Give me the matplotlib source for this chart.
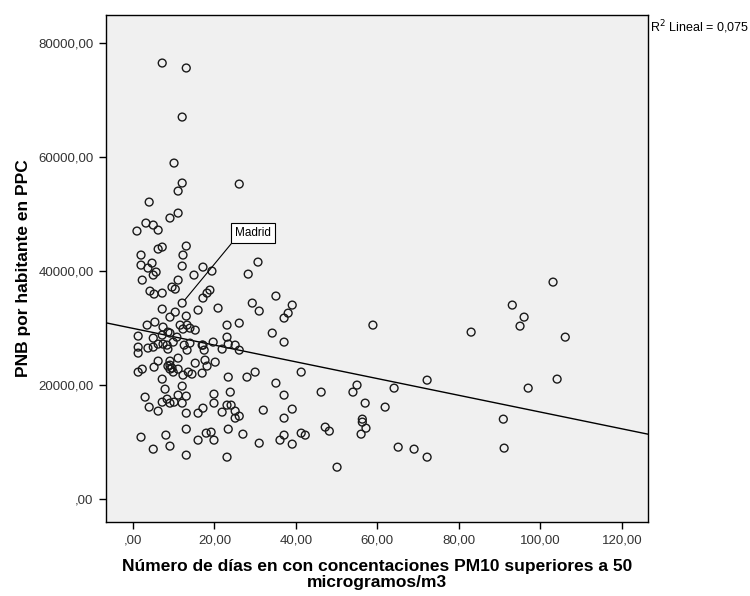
#!/usr/bin/env python3
"""Scatter of GNP per inhabitant (PPP) against the number of days with PM10
above 50 µg/m3, with the linear fit and Madrid labelled."""

import matplotlib
matplotlib.use("Agg")
import matplotlib.pyplot as plt
from matplotlib.ticker import FuncFormatter

# days with PM10 > 50 microgramos/m3
DAYS = [
    7.2, 13.1, 12.1, 10.1, 12.1, 11.1, 26.1, 4.0, 11.1, 9.1,
    3.2, 5.0, 6.2, 1.0, 7.2, 6.2, 13.1, 12.3, 2.0, 12.1,
    2.0, 4.7, 5.7, 5.0, 2.3, 11.1, 9.6, 10.4, 4.2, 5.2,
    7.2, 17.2, 19.4, 15.0, 18.9, 18.2, 17.2, 28.3, 30.7, 29.3,
    31.0, 7.2, 10.4, 9.1, 13.1, 16.0, 20.9, 23.1, 26.1, 3.5,
    5.4, 7.4, 11.6, 13.3, 14.0, 15.3, 12.3, 1.3, 5.0, 9.1,
    10.8, 23.1, 19.7, 17.2, 25.1, 3.7, 7.2, 8.6, 1.3, 1.3,
    3.7, 5.0, 6.2, 7.4, 8.4, 8.6, 9.9, 12.6, 13.3, 14.0,
    17.0, 17.5, 21.9, 23.4, 6.2, 9.1, 11.1, 17.7, 20.2, 1.3,
    2.3, 5.2, 9.1, 9.1, 9.9, 11.1, 12.3, 13.6, 14.5, 15.3,
    17.0, 18.2, 23.4, 7.2, 7.9, 12.1, 3.0, 4.0, 6.2, 7.2,
    8.4, 9.1, 10.1, 11.1, 12.1, 13.1, 13.1, 16.0, 17.2, 19.9,
    19.9, 21.9, 23.1, 24.1, 23.9, 2.0, 8.1, 5.0, 9.1, 13.1,
    13.1, 16.0, 18.0, 19.2, 19.9, 23.4, 23.1, 28.0, 30.0, 35.1,
    37.1, 25.1, 25.1, 26.1, 32.0, 37.1, 39.1, 27.0, 31.0, 36.1,
    37.1, 39.1, 35.1, 39.1, 38.1, 37.1, 34.2, 37.1, 26.1, 41.3,
    46.2, 47.2, 48.2, 41.3, 42.3, 58.9, 55.0, 54.0, 64.1, 72.2,
    57.0, 61.9, 56.3, 56.3, 57.2, 56.0, 65.1, 69.0, 72.2, 50.1,
    103.1, 93.1, 96.0, 95.0, 83.0, 106.1, 104.1, 97.0, 90.9, 91.1,
    8.6, 9.6,
]
# PNB por habitante en PPC
GNP = [
    76470, 75600, 67000, 58930, 55430, 54020, 55250, 52090, 50160, 49290,
    48410, 48060, 47180, 47010, 44200, 43850, 44380, 42800, 42800, 40870,
    41040, 41390, 39820, 39290, 38410, 38410, 37180, 36830, 36480, 35960,
    36130, 40690, 39990, 39290, 36660, 36130, 35260, 39460, 41570, 34380,
    32980, 33330, 32800, 31920, 32100, 33150, 33500, 30520, 30870, 30520,
    31050, 30170, 30520, 30520, 29990, 29640, 29820, 28590, 28240, 29120,
    28410, 28410, 27540, 27010, 27010, 40520, 28770, 29290, 26660, 25610,
    26490, 26660, 27190, 27190, 27010, 26310, 27540, 27010, 26130, 27360,
    27010, 26130, 26310, 27190, 24210, 24210, 24730, 24380, 24030, 22280,
    22800, 23150, 23500, 22800, 22280, 22800, 21750, 22280, 21930, 23850,
    22100, 23330, 21400, 21050, 19290, 19820, 17890, 16140, 15440, 17010,
    17540, 16840, 17010, 18240, 16840, 18070, 15080, 15080, 15960, 18420,
    16840, 15260, 16490, 16490, 18770, 10870, 11230, 8770, 9300, 12280,
    7720, 10350, 11580, 11750, 10350, 12280, 7370, 21400, 22280, 20350,
    18240, 15440, 14210, 14560, 15610, 14210, 15790, 11400, 9820, 10350,
    11230, 9650, 35610, 34030, 32620, 31750, 29120, 27540, 26130, 22280,
    18770, 12630, 11930, 11580, 11230, 30520, 20000, 18770, 19470, 20870,
    16840, 16140, 14030, 13510, 12450, 11400, 9120, 8770, 7370, 5610,
    38060, 34030, 31920, 30340, 29290, 28410, 21050, 19470, 14030, 8950,
    23330, 22980,
]

MADRID_DAYS = 12.1
MADRID_GNP = 34380

# linear fit reported by the stats package
FIT_INTERCEPT = 29950
FIT_SLOPE = -146.8
FIT_R2 = "0,075"

X_TICKS = [0, 20, 40, 60, 80, 100, 120]
Y_TICKS = [0, 20000, 40000, 60000, 80000]
X_LIM = (-6.6, 126.4)
Y_LIM = (-4000, 84900)

PANEL_BG = "#f0f0f0"
TICK_TEXT = "#333333"


def comma_decimal(v, pos):
    # SPSS style: two decimals, comma separator, no leading zero
    s = ("%.2f" % v).replace(".", ",")
    if s.startswith("0,"):
        s = s[1:]
    return s


def main():
    plt.rcParams["font.family"] = ["Liberation Sans", "DejaVu Sans"]

    fig = plt.figure(figsize=(7.5, 5.96), dpi=100, facecolor="white")
    ax = fig.add_axes([0.1413, 0.1242, 0.7227, 0.8507])
    ax.set_facecolor(PANEL_BG)

    ax.scatter(DAYS, GNP, s=32, facecolors="none", edgecolors="#1a1a1a",
               linewidths=1.0, zorder=3)
    ax.scatter([MADRID_DAYS], [MADRID_GNP], s=32, facecolors="none",
               edgecolors="#1a1a1a", linewidths=1.0, zorder=3)

    fit_x = list(X_LIM)
    fit_y = [FIT_INTERCEPT + FIT_SLOPE * x for x in fit_x]
    ax.plot(fit_x, fit_y, color="black", linewidth=1.0, zorder=2)

    ax.annotate("Madrid", xy=(MADRID_DAYS, MADRID_GNP), xycoords="data",
                xytext=(38, 46), textcoords="offset points",
                ha="left", va="bottom", fontsize=8.5, color="black",
                bbox=dict(boxstyle="square,pad=0.35", facecolor="white",
                          edgecolor="black", linewidth=0.8),
                arrowprops=dict(arrowstyle="-", color="black", lw=0.8,
                                relpos=(0.0, 0.0), shrinkA=0, shrinkB=3))

    ax.set_xlim(*X_LIM)
    ax.set_ylim(*Y_LIM)
    ax.set_xticks(X_TICKS)
    ax.set_yticks(Y_TICKS)
    ax.xaxis.set_major_formatter(FuncFormatter(comma_decimal))
    ax.yaxis.set_major_formatter(FuncFormatter(comma_decimal))
    ax.tick_params(direction="out", length=5, width=1.0, colors="black",
                   labelcolor=TICK_TEXT, labelsize=9.5, pad=4)
    for spine in ax.spines.values():
        spine.set_color("black")
        spine.set_linewidth(1.0)

    ax.set_xlabel("Número de días en con concentaciones PM10 superiores a 50\n"
                  "microgramos/m3", fontsize=12.5, fontweight="bold",
                  linespacing=1.05, labelpad=9)
    ax.set_ylabel("PNB por habitante en PPC", fontsize=12.5, fontweight="bold",
                  labelpad=5)

    fig.text(0.867, 0.955, r"R$^2$ Lineal = " + FIT_R2, fontsize=9,
             ha="left", va="center", color="black")

    fig.savefig("out.png", dpi=100, facecolor=fig.get_facecolor())


if __name__ == "__main__":
    main()
